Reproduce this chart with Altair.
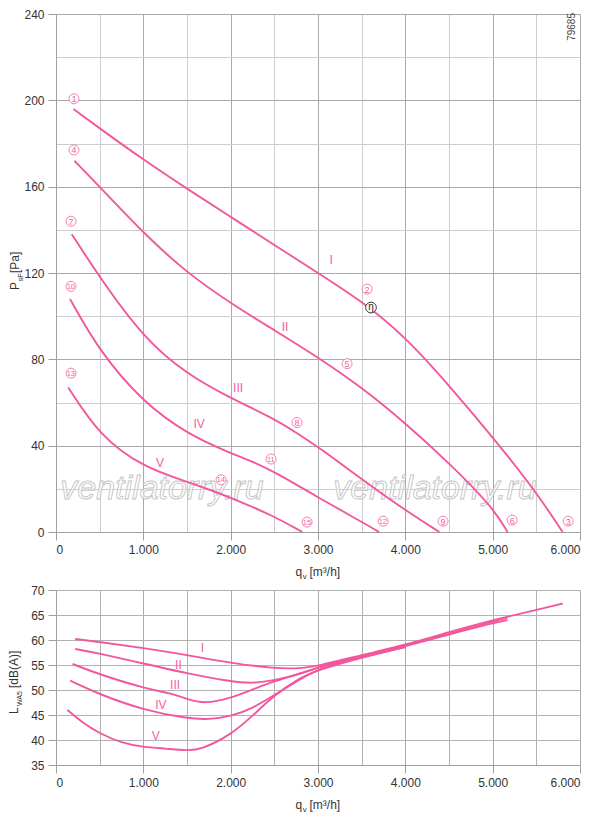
import altair as alt
import pandas as pd

PINK = "#f2579d"
LABEL_PINK = "#f0629f"
TXT = "#333333"

# --- static pressure curves (q in m3/h, p in Pa) ---
q_p1 = [200, 500, 1000, 1500, 2000, 2500, 3000, 3500, 4000, 4500, 5000, 5500, 5800]
p_p1 = [196, 187, 172.5, 159, 146, 133, 120, 107, 90.5, 68, 44, 18.5, 0]
q_p2 = [210, 500, 1000, 1500, 2000, 2500, 3000, 3500, 4000, 4500, 5000, 5170]
p_p2 = [172, 160, 138.5, 120, 106, 93.5, 81, 67, 50.5, 32, 11.5, 0]
q_p3 = [180, 500, 1000, 1500, 2000, 2500, 2750, 3000, 3500, 4000, 4390]
p_p3 = [138, 118, 90, 73, 62, 52.5, 46, 39.5, 24.5, 10, 0]
q_p4 = [160, 500, 1000, 1500, 2000, 2200, 2500, 3000, 3500, 3700]
p_p4 = [108, 83.5, 60, 45.5, 36.5, 33.5, 28, 16, 4.7, 0]
q_p5 = [140, 500, 1000, 1500, 1750, 2000, 2500, 2820]
p_p5 = [67, 44.5, 30, 23.3, 19.7, 16, 7.3, 0]

# --- sound power curves (q in m3/h, L in dB(A)) ---
q_l1 = [220, 500, 1000, 1500, 2000, 2500, 2800, 3000, 3500, 4000, 4500, 5000, 5500, 5800]
l_l1 = [60.2, 59.6, 58.4, 57.0, 55.4, 54.3, 54.3, 54.8, 57.0, 59.0, 61.6, 64.0, 66.0, 67.3]
q_l2 = [220, 500, 1000, 1500, 2000, 2250, 2500, 2800, 3000, 3500, 4000, 4500, 5000, 5170]
l_l2 = [58.2, 57.3, 55.3, 53.3, 51.7, 51.3, 51.9, 53.2, 54.6, 56.8, 58.8, 61.3, 63.7, 64.5]
q_l3 = [190, 500, 1000, 1300, 1500, 1700, 2000, 2250, 2500, 2800, 3000, 3500, 4000, 4500, 5000, 5170]
l_l3 = [55.2, 53.1, 50.4, 49.4, 48.2, 47.2, 48.4, 50.1, 51.8, 53.3, 54.5, 56.7, 58.7, 61.1, 63.4, 64.0]
q_l4 = [160, 500, 1000, 1500, 1750, 2000, 2250, 2500, 2800, 3000, 3500, 4000]
l_l4 = [51.9, 49.1, 46.0, 44.3, 44.1, 44.7, 46.3, 49.0, 52.2, 54.2, 56.6, 58.6]
q_l5 = [130, 300, 500, 750, 1000, 1250, 1500, 1650, 2000, 2250, 2500, 2800, 3000, 3500, 4000]
l_l5 = [46.0, 43.5, 41.3, 39.4, 38.6, 38.3, 37.9, 38.0, 41.0, 44.8, 49.0, 52.5, 54.0, 56.5, 58.6]

# --- annotations ---
num_labels = ["1", "4", "7", "10", "13", "2", "5", "8", "11", "14", "3", "6", "9", "12", "15"]
num_q = [206, 206, 172, 172, 172, 3562, 3333, 2760, 2462, 1890, 5865, 5223, 4432, 3745, 2875]
num_p = [200.7, 177, 144, 113.8, 73.6, 112.5, 78, 50.7, 33.8, 24.2, 5, 5.5, 5, 5, 4.6]
eta_q, eta_p = [3607], [104]
roman = ["I", "II", "III", "IV", "V"]
roman_top_q = [3150, 2623, 2085, 1638, 1191]
roman_top_p = [126, 95, 66.7, 50, 32]
roman_bot_q = [1676, 1402, 1364, 1200, 1143]
roman_bot_l = [58.4, 55.0, 51.1, 47.0, 40.9]
mark_q, mark_p = [1214, 4340], [19.7, 19.7]


def long_df(pairs, ycol):
    rows = []
    for name, qs, ys in pairs:
        for q, y in zip(qs, ys):
            rows.append({"curve": name, "q": q, ycol: y})
    return pd.DataFrame(rows)


press = long_df([("I", q_p1, p_p1), ("II", q_p2, p_p2), ("III", q_p3, p_p3),
                 ("IV", q_p4, p_p4), ("V", q_p5, p_p5)], "p")
sound = long_df([("I", q_l1, l_l1), ("II", q_l2, l_l2), ("III", q_l3, l_l3),
                 ("IV", q_l4, l_l4), ("V", q_l5, l_l5)], "L")
nums = pd.DataFrame({"n": num_labels, "q": num_q, "p": num_p})
nums["two"] = nums["n"].str.len() > 1
eta = pd.DataFrame({"q": eta_q, "p": eta_p, "t": ["η"]})
rom_top = pd.DataFrame({"t": roman, "q": roman_top_q, "p": roman_top_p})
rom_bot = pd.DataFrame({"t": roman, "q": roman_bot_q, "L": roman_bot_l})
marks = pd.DataFrame({"q": mark_q, "p": mark_p})
ident = pd.DataFrame({"q": [5910], "p": [234], "t": ["79685"]})

thousands = "replace(format(datum.value, ','), ',', '.')"


def x_axis(minor_color):
    return alt.Axis(
        values=list(range(0, 6001, 500)),
        labelExpr=f"datum.value % 1000 === 0 ? {thousands} : ''",
        gridColor={"condition": {"test": "datum.value % 1000 === 0", "value": "#a9a9a9"},
                   "value": minor_color},
        tickColor={"condition": {"test": "datum.value % 1000 === 0", "value": "#a0a0a0"},
                   "value": "transparent"},
        domainColor="#a0a0a0", tickSize=8, labelPadding=4, labelFontSize=12,
        labelColor=TXT, title=None, labelOverlap=False,
    )


xq_top = alt.X("q:Q", scale=alt.Scale(domain=[0, 6000], nice=False), axis=x_axis("#cdcdcd"))
yp = alt.Y("p:Q", scale=alt.Scale(domain=[0, 240], nice=False),
           axis=alt.Axis(values=list(range(0, 241, 20)),
                         labelExpr="datum.value % 40 === 0 ? datum.value : ''",
                         gridColor={"condition": {"test": "datum.value % 40 === 0", "value": "#a9a9a9"},
                                    "value": "#cdcdcd"},
                         tickColor={"condition": {"test": "datum.value % 40 === 0", "value": "#a0a0a0"},
                                    "value": "transparent"},
                         domainColor="#a0a0a0", tickSize=8, labelPadding=4, labelFontSize=12,
                         labelColor=TXT, title=None, labelOverlap=False))


def piece(s, x, y, size=12, angle=0):
    return alt.Chart(pd.DataFrame({"s": [s]})).mark_text(
        fontSize=size, angle=angle, align="left", baseline="alphabetic", color=TXT
    ).encode(x=alt.value(x), y=alt.value(y), text="s:N")


watermark = alt.Chart(marks).mark_text(
    text="ventilatorry.ru", fontSize=34, fontStyle="italic", fill="white",
    fillOpacity=0.6, stroke="#c4c4c4", strokeWidth=0.9, baseline="middle"
).encode(x=xq_top, y=yp)

p_lines = alt.Chart(press).mark_line(interpolate="basis", strokeWidth=1.9, color=PINK).encode(
    x=xq_top, y=yp, detail="curve:N")

circles = alt.Chart(nums).mark_point(shape="circle", size=100, filled=False, fill="white",
                                     fillOpacity=1, stroke=LABEL_PINK, strokeWidth=0.8,
                                     opacity=1).encode(x=xq_top, y=yp)
digits1 = alt.Chart(nums).transform_filter("!datum.two").mark_text(
    fontSize=9, color=LABEL_PINK, baseline="middle", dy=0.5).encode(x=xq_top, y=yp, text="n:N")
digits2 = alt.Chart(nums).transform_filter("datum.two").mark_text(
    fontSize=7.5, color=LABEL_PINK, baseline="middle", dy=0.5, dx=-0.2).encode(x=xq_top, y=yp, text="n:N")
eta_c = alt.Chart(eta).mark_point(shape="circle", size=115, filled=False, fill="white",
                                  fillOpacity=1, stroke="#222222", strokeWidth=0.9,
                                  opacity=1).encode(x=xq_top, y=yp)
eta_t = alt.Chart(eta).mark_text(fontSize=10, color="#222222", baseline="middle", dy=-0.5).encode(
    x=xq_top, y=yp, text="t:N")
rom_t = alt.Chart(rom_top).mark_text(fontSize=12, color=LABEL_PINK, baseline="middle").encode(
    x=xq_top, y=yp, text="t:N")
id_t = alt.Chart(ident).mark_text(fontSize=10, color="#444444", angle=270, baseline="middle").encode(
    x=xq_top, y=yp, text="t:N")

top = alt.layer(
    watermark, p_lines, circles, digits1, digits2, eta_c, eta_t, rom_t, id_t,
    piece("P", -37, 276, angle=270), piece("sF", -33.5, 267.5, 7.5, 270),
    piece("[Pa]", -37, 259, angle=270),
    piece("q", 239.5, 562), piece("v", 246.7, 565, 8), piece("[m³/h]", 253.5, 562),
).properties(width=524, height=518)

xq_bot = alt.X("q:Q", scale=alt.Scale(domain=[0, 6000], nice=False), axis=x_axis("#b2b2b2"))
yl = alt.Y("L:Q", scale=alt.Scale(domain=[35, 70], nice=False, zero=False),
           axis=alt.Axis(values=list(range(35, 71, 5)), gridColor="#b2b2b2", tickColor="#a0a0a0",
                         domainColor="#a0a0a0", tickSize=8, labelPadding=4, labelFontSize=12,
                         labelColor=TXT, title=None))

l_lines = alt.Chart(sound).mark_line(interpolate="basis", strokeWidth=1.9, color=PINK).encode(
    x=xq_bot, y=yl, detail="curve:N")
rom_b = alt.Chart(rom_bot).mark_text(fontSize=12, color=LABEL_PINK, baseline="middle").encode(
    x=xq_bot, y=yl, text="t:N")

bottom = alt.layer(
    l_lines, rom_b,
    piece("L", -38, 124, angle=270), piece("WA5", -34.5, 116, 7, 270),
    piece("[dB(A)]", -38, 98, angle=270),
    piece("q", 239.5, 219), piece("v", 246.7, 222, 8), piece("[m³/h]", 253.5, 219),
).properties(width=524, height=175)

chart = alt.vconcat(top, bottom, spacing=3).properties(
    padding={"left": 0, "top": 0, "right": 0, "bottom": 0}
).configure(font="Liberation Sans").configure_view(stroke=None)

chart.save("out.html", embed_options={"renderer": "svg", "actions": False})
